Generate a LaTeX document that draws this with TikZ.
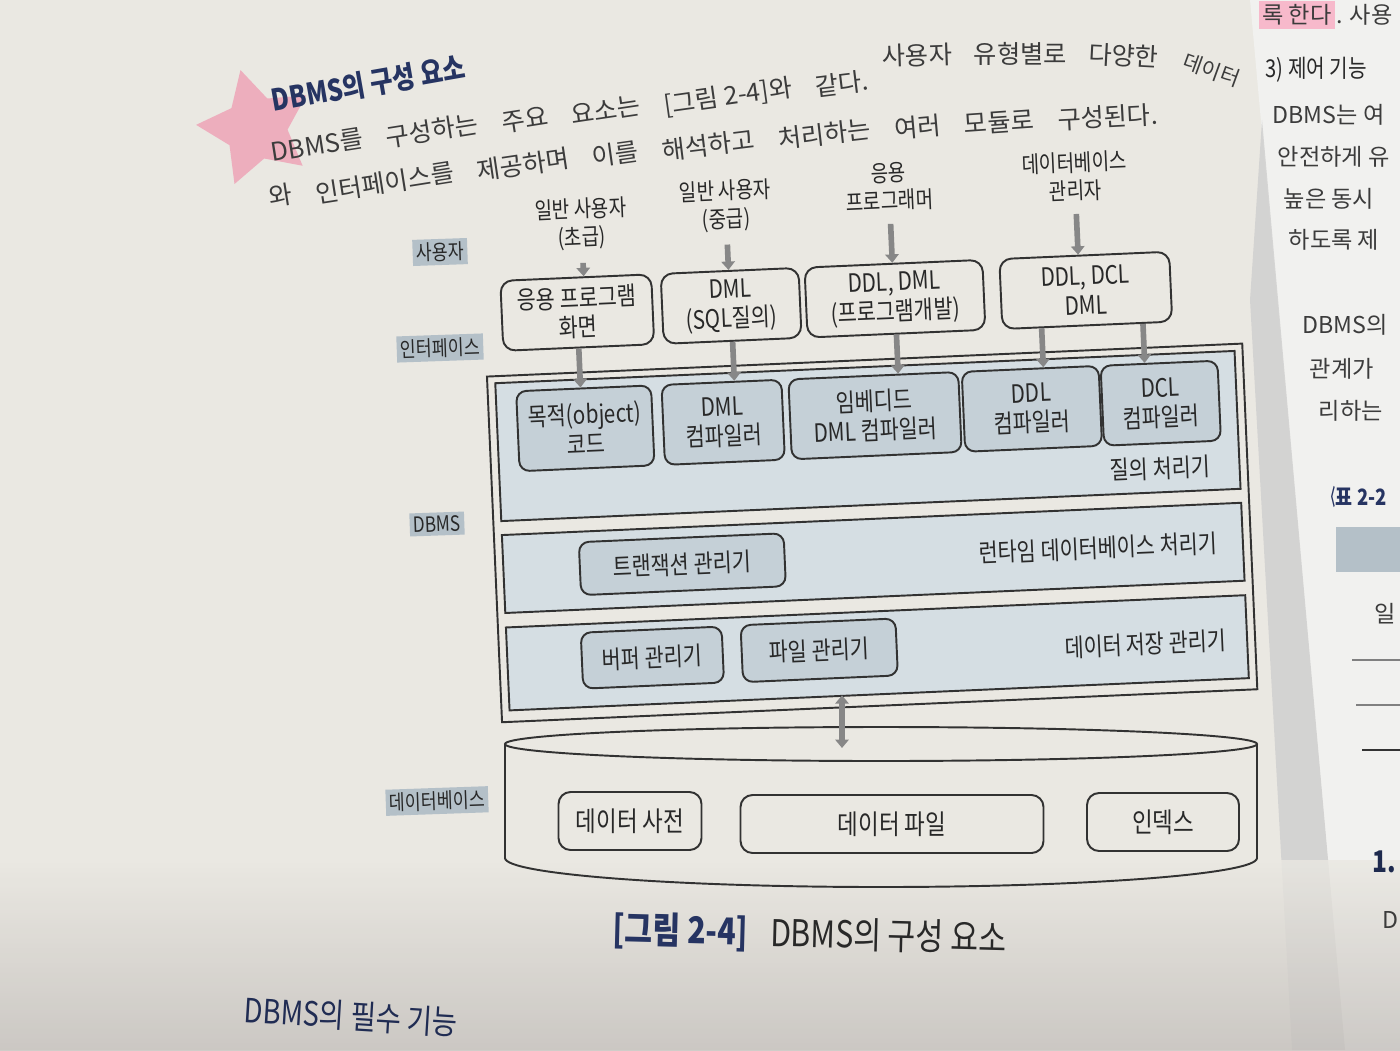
\documentclass[tikz,border=0pt]{standalone}
\usepackage{fontspec}
\setmainfont{Noto Sans CJK KR}[FakeStretch=0.82]
\newfontfamily\bodyfont{Noto Sans CJK KR}
\usetikzlibrary{arrows.meta,positioning,shapes.geometric,calc}

\definecolor{pagecol}{RGB}{234,232,226}
\definecolor{pagebot}{RGB}{196,192,188}
\definecolor{rpage}{RGB}{241,241,239}
\definecolor{fold}{RGB}{206,206,206}
\definecolor{inkline}{RGB}{50,50,50}
\definecolor{inktext}{RGB}{40,40,40}
\definecolor{bodytext}{RGB}{60,60,60}
\definecolor{tierfill}{RGB}{213,222,227}
\definecolor{compfill}{RGB}{197,208,215}
\definecolor{hlgray}{RGB}{180,192,200}
\definecolor{navy}{RGB}{38,52,98}
\definecolor{arrgray}{RGB}{135,135,135}
\definecolor{marker}{RGB}{240,128,160}

\begin{document}
\begin{tikzpicture}[x=0.1mm, y=-0.1mm, font=\fontsize{7.2}{8.4}\selectfont, text=inktext,
  ink/.style={draw=inkline, line width=0.55pt},
  tier/.style={ink, fill=tierfill, minimum width=74mm, inner sep=0pt},
  comp/.style={ink, fill=compfill, rounded corners=1mm, align=center, minimum height=8mm, inner sep=0pt},
  ifbox/.style={ink, rounded corners=1.2mm, align=center, minimum height=7mm, inner sep=0pt},
  dbitem/.style={ink, rounded corners=1.2mm, minimum height=5.8mm, inner sep=0pt, font=\fontsize{7.8}{9}\selectfont},
  who/.style={align=center, inner sep=0pt, font=\fontsize{6.6}{8}\selectfont},
  side/.style={fill=hlgray, inner sep=1pt, rotate=2, font=\fontsize{6}{7}\selectfont},
  uarr/.style={draw=arrgray, line width=1.6pt, -{Triangle[length=2.4pt,width=3.8pt]}},
  darr/.style={draw=arrgray, line width=1.6pt, {Triangle[length=2.4pt,width=3.8pt]}-{Triangle[length=2.4pt,width=3.8pt]}},
  para/.style={anchor=base west, inner sep=0pt, text=bodytext, font=\bodyfont\fontsize{7.2}{9}\selectfont},
  rtext/.style={anchor=base west, inner sep=0pt, text=bodytext, font=\bodyfont\fontsize{6.6}{8}\selectfont}]
\useasboundingbox (0,0) rectangle (1400,1050);
\clip (0,0) rectangle (1400,1050);

% page, fold and right page
\fill[pagecol] (0,0) rectangle (1400,1050);
\fill[rpage] (1250,0) -- (1400,0) -- (1400,1050) -- (1345,1050) -- cycle;
\fill[fold, opacity=0.8] (1262,120) -- (1250,300) -- (1292,1050) -- (1345,1050) -- cycle;
\shade[top color=pagecol, bottom color=pagebot, opacity=0.8] (0,860) rectangle (1400,1050);

% heading and text above the figure
\node[star, star points=5, star point ratio=1.9, fill=marker, opacity=0.55, minimum size=12mm, rotate=15] (mark) at (256,128) {};
\node[anchor=base west, inner sep=0pt, rotate=10, text=navy, font=\bfseries\fontsize{8.5}{10}\selectfont] (head) at (273,112) {DBMS의 구성 요소};
\node[para, rotate=9] (t1) at (272,162) {DBMS를};
\node[para, rotate=9] (t2) at ([xshift=2.2mm]t1.base east) {구성하는};
\node[para, rotate=9] (t3) at ([xshift=2.2mm]t2.base east) {주요};
\node[para, rotate=8.5] (t4) at ([xshift=2.2mm]t3.base east) {요소는};
\node[para, rotate=8] (t5) at ([xshift=2.2mm]t4.base east) {[그림 2-4]와};
\node[para, rotate=7] (t6) at ([xshift=2.2mm]t5.base east) {같다.};
\node[para, rotate=2] (t7) at (882,66) {사용자};
\node[para] (t8) at ([xshift=2mm]t7.base east) {유형별로};
\node[para, rotate=-3] (t9) at ([xshift=2mm]t8.base east) {다양한};
\node[para, rotate=-20, font=\bodyfont\fontsize{6}{7}\selectfont] (t10) at ([xshift=2.2mm]t9.base east) {데이터};
\node[para, rotate=9] (s1) at (270,207) {와};
\node[para, rotate=9] (s2) at ([xshift=2.2mm]s1.base east) {인터페이스를};
\node[para, rotate=8.5] (s3) at ([xshift=2.2mm]s2.base east) {제공하며};
\node[para, rotate=8] (s4) at ([xshift=2.2mm]s3.base east) {이를};
\node[para, rotate=7] (s5) at ([xshift=2.2mm]s4.base east) {해석하고};
\node[para, rotate=6.5] (s6) at ([xshift=2.2mm]s5.base east) {처리하는};
\node[para, rotate=5] (s7) at ([xshift=2.2mm]s6.base east) {여러};
\node[para, rotate=4] (s8) at ([xshift=2.2mm]s7.base east) {모듈로};
\node[para, rotate=3] (s9) at ([xshift=2.2mm]s8.base east) {구성된다.};

% row labels
\node[side] (lsu) at (440,252) {사용자};
\node[side] (lif) at (440,348) {인터페이스};
\node[side] (ldb) at (437,524) {DBMS};
\node[side] (ldata) at (437,801) {데이터베이스};

\begin{scope}[rotate around={2.5:(870,530)}, every node/.append style={transform shape}]
% users
\node[who] (u1) at (595,212) {일반 사용자\\(초급)};
\node[who] (u2) at (740,200) {일반 사용자\\(중급)};
\node[who] (u3) at (904,188) {응용\\프로그래머};
\node[who] (u4) at (1090,186) {데이터베이스\\관리자};
% interfaces
\node[ifbox, minimum width=15.1mm] (b1) at (587,300) {응용 프로그램\\화면};
\node[ifbox, minimum width=13.8mm] (b2) at (741,300) {DML\\(SQL질의)};
\node[ifbox, minimum width=17.8mm] (b3) at (905,300) {DDL, DML\\(프로그램개발)};
\node[ifbox, minimum width=17mm] (b4) at (1096,300) {DDL, DCL\\DML};
% DBMS layers
\node[ink, minimum width=75.6mm, minimum height=34.6mm] (dbms) at (872,533) {};
\node[tier, minimum height=13.8mm] (qp) at (872,436) {};
\node[tier, minimum height=7.8mm] (rt) at (872,558) {};
\node[tier, minimum height=8.3mm] (sm) at (872,653) {};
\node[comp, minimum width=13.5mm] (obj) at (590,416) {목적(object)\\코드};
\node[comp, minimum width=12mm] (dmlc) at (728,416) {DML\\컴파일러};
\node[comp, minimum width=17mm] (emb) at (880,416) {임베디드\\DML 컴파일러};
\node[comp, minimum width=13.7mm] (ddlc) at (1037,416) {DDL\\컴파일러};
\node[comp, minimum width=11.7mm] (dclc) at (1166,416) {DCL\\컴파일러};
\node[anchor=east, inner sep=0pt] (qplabel) at (1213,481) {질의 처리기};
\node[comp, minimum width=20.5mm, minimum height=5.3mm] (tx) at (681,556) {트랜잭션 관리기};
\node[anchor=east, inner sep=0pt] (rtlabel) at (1217,558) {런타임 데이터베이스 처리기};
\node[comp, minimum width=14.1mm, minimum height=5.6mm] (buf) at (647,648) {버퍼 관리기};
\node[comp, minimum width=15.5mm, minimum height=5.7mm] (file) at (814,648) {파일 관리기};
\node[anchor=east, inner sep=0pt] (smlabel) at (1222,656) {데이터 저장 관리기};
% arrows
\draw[uarr, shorten <=1.2mm] (u1.south) -- (u1.south |- b1.north);
\draw[uarr, shorten <=1.2mm] (u2.south) -- (u2.south |- b2.north);
\draw[uarr, shorten <=1.2mm] (u3.south) -- (u3.south |- b3.north);
\draw[uarr, shorten <=1.2mm] (u4.south) -- (u4.south |- b4.north);
\coordinate (b4l) at ($(b4.south)!0.53!(b4.south west)$);
\coordinate (b4r) at ($(b4.south)!0.65!(b4.south east)$);
\draw[uarr] (b1.south) -- (b1.south |- obj.north);
\draw[uarr] (b2.south) -- (b2.south |- dmlc.north);
\draw[uarr] (b3.south) -- (b3.south |- emb.north);
\draw[uarr] (b4l) -- (b4l |- ddlc.north);
\draw[uarr] (b4r) -- (b4r |- dclc.north);
\end{scope}

% database
\coordinate (dbc) at (881,744);
\draw[ink] (505,744) -- (505,858) arc[start angle=180, end angle=360, x radius=37.6mm, y radius=2.9mm] -- (1257,744);
\draw[ink] (dbc) ellipse [x radius=37.6mm, y radius=1.7mm];
\node[dbitem, minimum width=14.3mm] (dict) at (630,821) {데이터 사전};
\node[dbitem, minimum width=30.3mm] (dfile) at (892,824) {데이터 파일};
\node[dbitem, minimum width=15.2mm] (idx) at (1163,822) {인덱스};
\coordinate (dbin) at (842,748);
\draw[darr] (dbin |- sm.south) -- (dbin);

% caption and next heading
\node[anchor=base west, inner sep=0pt, rotate=-1.5, font=\fontsize{10.5}{12}\selectfont] (cap) at (612,942) {\textcolor{navy}{\bfseries [그림 2-4]}\hspace{0.6em}DBMS의 구성 요소};
\node[anchor=base west, inner sep=0pt, rotate=-3.5, text=navy!85!black, font=\fontsize{9.5}{11}\selectfont] (next) at (243,1022) {DBMS의 필수 기능};

% right page
\node[rtext, fill=marker!55, inner sep=1pt] (r0a) at (1258,24) {록 한다};
\node[rtext] (r0b) at (r0a.base east) {. 사용};
\node[anchor=base west, inner sep=0pt, font=\fontsize{7}{9}\selectfont] (r1) at (1265,78) {3) 제어 기능};
\node[rtext] (r2) at (1272,124) {DBMS는 여};
\node[rtext] (r3) at (1277,165) {안전하게 유};
\node[rtext] (r4) at (1283,207) {높은 동시};
\node[rtext] (r5) at (1288,248) {하도록 제};
\node[rtext] (r6) at (1302,333) {DBMS의};
\node[rtext] (r7) at (1309,377) {관계가};
\node[rtext] (r8) at (1318,419) {리하는};
\node[rtext, text=navy, font=\bfseries\fontsize{6.4}{8}\selectfont] (r9) at (1326,505) {\scalebox{0.5}[1]{〈}표 2-2};
\fill[hlgray] (1336,527) rectangle (1400,572);
\node[rtext] (r10) at (1374,622) {일};
\draw[gray, line width=0.4pt] (1352,660) -- (1400,660);
\draw[gray, line width=0.4pt] (1356,705) -- (1400,705);
\draw[black!80, line width=0.8pt] (1362,750) -- (1400,750);
\node[rtext, text=navy!80!black, font=\bfseries\fontsize{8.5}{10}\selectfont] (r11) at (1372,872) {1.};
\node[rtext] (r12) at (1382,928) {D};
\end{tikzpicture}
\end{document}
